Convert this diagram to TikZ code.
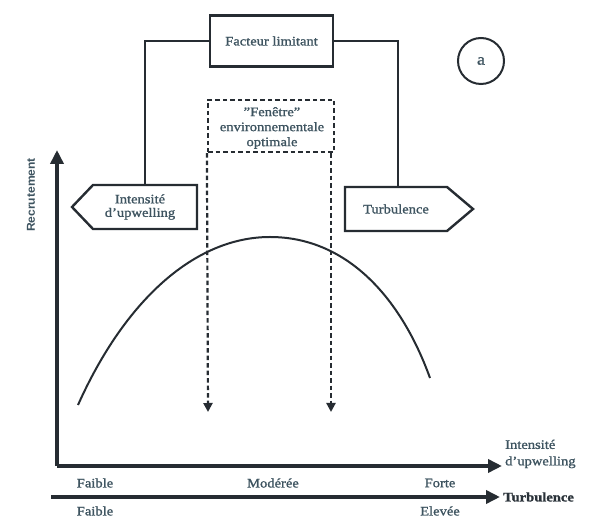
\documentclass[tikz,border=0pt]{standalone}
\usepackage{fontspec}
\setmainfont{Liberation Serif}[FakeStretch=1.12,FakeBold=1.2]
\setsansfont{Liberation Sans}[FakeStretch=1.05]
\usetikzlibrary{arrows.meta}
\definecolor{ink}{RGB}{38,44,50}
\definecolor{txt}{RGB}{62,84,96}
\begin{document}
\begin{tikzpicture}[x=1pt,y=-1pt,
  lbl/.style={text=txt,font=\fontsize{13}{14.5}\selectfont,inner sep=0pt,align=center},
  shapeline/.style={draw=ink,line width=2.4pt,line join=miter},
  conn/.style={draw=ink,line width=2pt},
  dashline/.style={draw=ink,line width=2.2pt,dash pattern=on 4.5pt off 3pt},
  axis/.style={draw=ink,line width=3.6pt,-{Triangle[length=14pt,width=13pt]}},
]
\useasboundingbox (0,0) rectangle (590,526);
\fill[white] (0,0) rectangle (590,526);

% Facteur limitant box
\node[shapeline,minimum width=123pt,minimum height=51pt,inner sep=0pt] (fl) at (271.5,41) {};
\node[lbl] (flt) at (fl.center) {Facteur limitant};

% Left pentagon: Intensité d'upwelling
\draw[shapeline] (72,207) -- (93,185) -- (197,185) -- (197,229) -- (93,229) -- cycle;
\node[lbl] (ib) at (140,207) {Intensité\\[-1pt]d'upwelling};
\coordinate (ibtop) at (145,185);

% Right pentagon: Turbulence
\draw[shapeline] (345,187) -- (447,187) -- (473,209) -- (447,231) -- (345,231) -- cycle;
\node[lbl] (tb) at (396,209) {Turbulence};
\coordinate (tbtop) at (398,187);

% connectors
\draw[conn] (fl.west) -| (ibtop);
\draw[conn] (fl.east) -| (tbtop);

% Dashed window
\node[dashline,minimum width=126pt,minimum height=52pt,inner sep=0pt] (win) at (271,126) {};
\node[lbl,font=\fontsize{13}{15}\selectfont] (wint) at (272,128) {"Fenêtre"\\environnementale\\optimale};
\coordinate (wl) at (208,412);
\coordinate (wr) at (331,412);
\draw[dashline,-{Triangle[length=9pt,width=9pt]}] (win.south west) -- (wl);
\draw[dashline,-{Triangle[length=9pt,width=9pt]}] (win.south east -| wr) -- (wr);

% circle a
\node[draw=ink,line width=2pt,circle,minimum size=46pt,inner sep=0pt] (ca) at (481,61) {};
\node[lbl,font=\fontsize{16}{18}\selectfont] at (ca.center) {a};

% axes
\coordinate (o) at (57,466);
\coordinate (ytop) at (57,150);
\coordinate (xend) at (502,466);
\draw[axis] (o) -- (ytop);
\draw[axis] (57,466) -- (xend);
\coordinate (t0) at (51,497);
\coordinate (tend) at (500,497);
\draw[axis] (t0) -- (tend);

% curve
\draw[ink,line width=2pt] (78,405) .. controls (125,300) and (195,237) .. (270,237)
  .. controls (345,237) and (400,295) .. (430,378);

% labels
\node[text=txt,font=\sffamily\bfseries\fontsize{11.5}{12}\selectfont,rotate=90,inner sep=0pt] (rec) at (31,195) {Recrutement};
\node[lbl,anchor=west,align=left] (xl) at (505,454) {Intensité\\[2pt]d'upwelling};
\node[lbl,anchor=west,font=\fontsize{13}{14}\selectfont\bfseries,text=ink!85!txt] (tl) at (503,497) {Turbulence};
\node[lbl] (f1) at (95,483) {Faible};
\node[lbl] (m1) at (273,483) {Modérée};
\node[lbl] (fo) at (440,483) {Forte};
\node[lbl] (f2) at (95,511) {Faible};
\node[lbl] (el) at (440,511) {Elevée};
\end{tikzpicture}
\end{document}
